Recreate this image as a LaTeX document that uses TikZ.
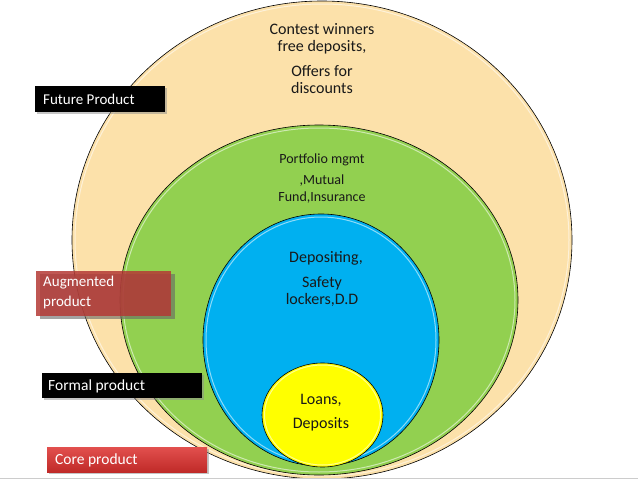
\documentclass[tikz,border=0pt]{standalone}
\usepackage{fontspec}
\setmainfont{Carlito}
\usetikzlibrary{shapes.geometric,shadows}
\definecolor{beige}{RGB}{252,225,170}
\definecolor{lgreen}{RGB}{146,208,80}
\definecolor{sky}{RGB}{0,176,240}
\definecolor{yel}{RGB}{255,255,0}
\definecolor{redbox}{RGB}{180,58,54}
\definecolor{coretop}{RGB}{226,80,78}
\definecolor{corebot}{RGB}{192,42,40}
\definecolor{txt}{RGB}{25,25,25}
\begin{document}
\begin{tikzpicture}[x=1pt,y=-1pt,
  layer/.style={ellipse,draw=black,line width=0.6pt,inner sep=0pt},
  rim/.style={draw=white,opacity=0.55,line width=1pt},
  ctext/.style={align=center,text=txt,inner sep=0pt},
  labeltext/.style={text=white,anchor=north west,inner sep=0pt,align=left}]
\useasboundingbox (0,0) rectangle (638,479);
\fill[white] (0,0) rectangle (638,479);
\begin{scope}
\clip (0,0) rectangle (638,479);
\node[layer,fill=beige,minimum width=500pt,minimum height=478pt] (future) at (322,240) {};
\draw[rim] (322,240) ellipse [x radius=247pt,y radius=236pt];
\node[layer,fill=lgreen,minimum width=398pt,minimum height=350pt] (augmented) at (319,300) {};
\draw[rim] (319,300) ellipse [x radius=196pt,y radius=172pt];
\node[layer,fill=sky,minimum width=236pt,minimum height=252pt] (formal) at (321,340) {};
\draw[rim] (321,340) ellipse [x radius=115pt,y radius=123pt];
\node[layer,fill=yel,minimum width=121pt,minimum height=104pt] (core) at (322.5,415) {};
\draw[rim] (322.5,415) ellipse [x radius=58pt,y radius=50pt];
\end{scope}
% texts
\node[ctext,font=\fontsize{16}{17}\selectfont] (t1) at (322,39) {Contest winners\\free deposits,};
\node[ctext,font=\fontsize{16}{17}\selectfont] (t2) at (322,80) {Offers for\\discounts};
\node[ctext,font=\fontsize{14}{17}\selectfont] (t3) at (322,160) {Portfolio mgmt};
\node[ctext,font=\fontsize{14}{17}\selectfont] (t4) at (322,189) {,Mutual\\Fund,Insurance};
\node[ctext,font=\fontsize{16}{17}\selectfont] (t5) at (326,258) {Depositing,};
\node[ctext,font=\fontsize{16}{17}\selectfont] (t6) at (322,292) {Safety\\lockers,D.D};
\node[ctext,font=\fontsize{16}{17}\selectfont] (t7) at (321,400) {Loans,};
\node[ctext,font=\fontsize{16}{17}\selectfont] (t8) at (321,424) {Deposits};
% labels
\fill[black!45,opacity=0.5] (37,88) rectangle (167,114);
\fill[black] (35,86) rectangle (165,112);
\node[labeltext,anchor=west,font=\fontsize{15}{17}\selectfont] (lfuture) at (43,99) {Future Product};
\fill[black!60,opacity=0.6] (40,274) rectangle (175,319);
\fill[redbox,fill opacity=0.85] (36,271) rectangle (171,316);
\node[labeltext,font=\fontsize{15}{20}\selectfont] (laug) at (43,276) {Augmented\\product};
\fill[black!45,opacity=0.5] (44,375) rectangle (204,400);
\fill[black] (42,373) rectangle (202,398);
\node[labeltext,anchor=west,font=\fontsize{15.5}{17}\selectfont] (lformal) at (48,386) {Formal product};
\fill[black!45,opacity=0.5] (49,449) rectangle (209,474);
\shade[top color=coretop,bottom color=corebot] (47,447) rectangle (207,472);
\node[labeltext,anchor=west,font=\fontsize{15.5}{17}\selectfont] (lcore) at (55,460) {Core product};
\draw[black!20,line width=1pt] (0,478.5) -- (638,478.5);
\end{tikzpicture}
\end{document}
